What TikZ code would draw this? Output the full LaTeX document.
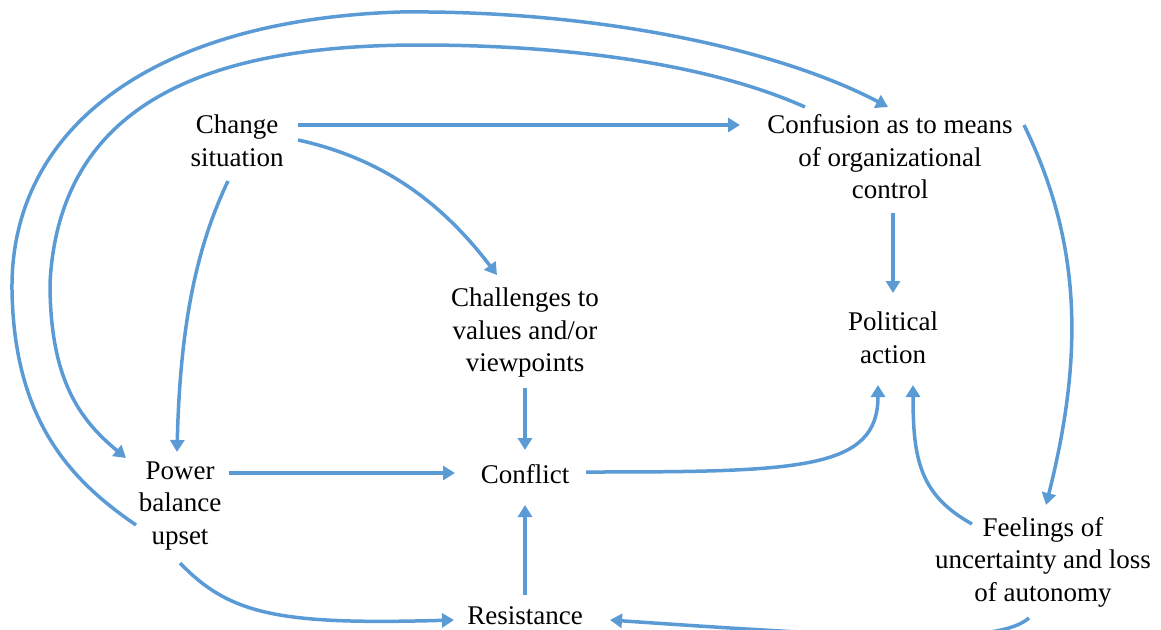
\documentclass[tikz,border=0pt]{standalone}
\usepackage{fontspec}
\setmainfont{Liberation Serif}
\usetikzlibrary{arrows.meta}
\definecolor{blueline}{RGB}{91,155,213}
\tikzset{
  lbl/.style={font=\fontsize{27}{32.5}\selectfont, align=center, inner sep=0pt},
  conn/.style={draw=blueline, line width=3.5pt, -{Triangle[length=12pt,width=14pt]}}
}
\begin{document}
\begin{tikzpicture}[x=1pt,y=-1pt]
\useasboundingbox (0,0) rectangle (1161,629);
\node[lbl] (cs) at (237,141) {Change\\situation};
\node[lbl] (cf) at (890,157) {Confusion as to means\\of organizational\\control};
\node[lbl] (ch) at (525,333) {Challenges to\\values and/or\\viewpoints};
\node[lbl] (pa) at (893,338) {Political\\action};
\node[lbl] (pb) at (180,506) {Power\\balance\\upset};
\node[lbl] (co) at (525,474) {Conflict};
\node[lbl] (re) at (525,616) {Resistance};
\node[lbl] (fe) at (1043,562) {Feelings of\\uncertainty and loss\\of autonomy};

% straight connectors
\draw[conn] ([shift={(61,-16)}]cs.center) -- ([shift={(-150,-32)}]cf.center);
\draw[conn] ([shift={(0,55)}]ch.center) -- ([shift={(0,-24)}]co.center);
\draw[conn] ([shift={(49,-33)}]pb.center) -- ([shift={(-70,-1)}]co.center);
\draw[conn] ([shift={(0,-21)}]re.center) -- ([shift={(0,31)}]co.center);
\draw[conn] ([shift={(3,56)}]cf.center) -- ([shift={(0,-45)}]pa.center);

% curved connectors
\draw[conn] ([shift={(61,-1)}]cs.center) .. controls (380,158) and (440,200) .. ([shift={(-28,-58)}]ch.center);
\draw[conn] ([shift={(-9,40)}]cs.center) .. controls (195,250) and (180,330) .. ([shift={(-3,-54)}]pb.center);
\draw[conn] ([shift={(0,57)}]pb.center) .. controls (230,615) and (280,625) .. ([shift={(-71,4)}]re.center);
\draw[conn] ([shift={(61,-2)}]co.center) .. controls (800,472) and (878,470) .. ([shift={(-15,47)}]pa.center);
\draw[conn] ([shift={(-71,-38)}]fe.center) .. controls (920,495) and (913,460) .. ([shift={(20,47)}]pa.center);
\draw[conn] ([shift={(134,-32)}]cf.center) .. controls (1080,240) and (1085,350) .. ([shift={(3,-57)}]fe.center);
\draw[conn] ([shift={(-14,56)}]fe.center) .. controls (1000,643) and (900,640) .. ([shift={(85,4)}]re.center);

% outer loop: power balance upset -> confusion
\draw[conn] ([shift={(-44,19)}]pb.center) .. controls (70,480) and (14,420) .. (12,290)
  .. controls (10,130) and (150,20) .. (400,12)
  .. controls (600,10) and (780,50) .. ([shift={(-2,-50)}]cf.center);

% inner loop: confusion -> power balance upset
\draw[conn] ([shift={(-85,-50)}]cf.center) .. controls (700,60) and (550,45) .. (420,45)
  .. controls (230,45) and (60,90) .. (50,283)
  .. controls (50,380) and (80,420) .. ([shift={(-54,-48)}]pb.center);
\end{tikzpicture}
\end{document}
